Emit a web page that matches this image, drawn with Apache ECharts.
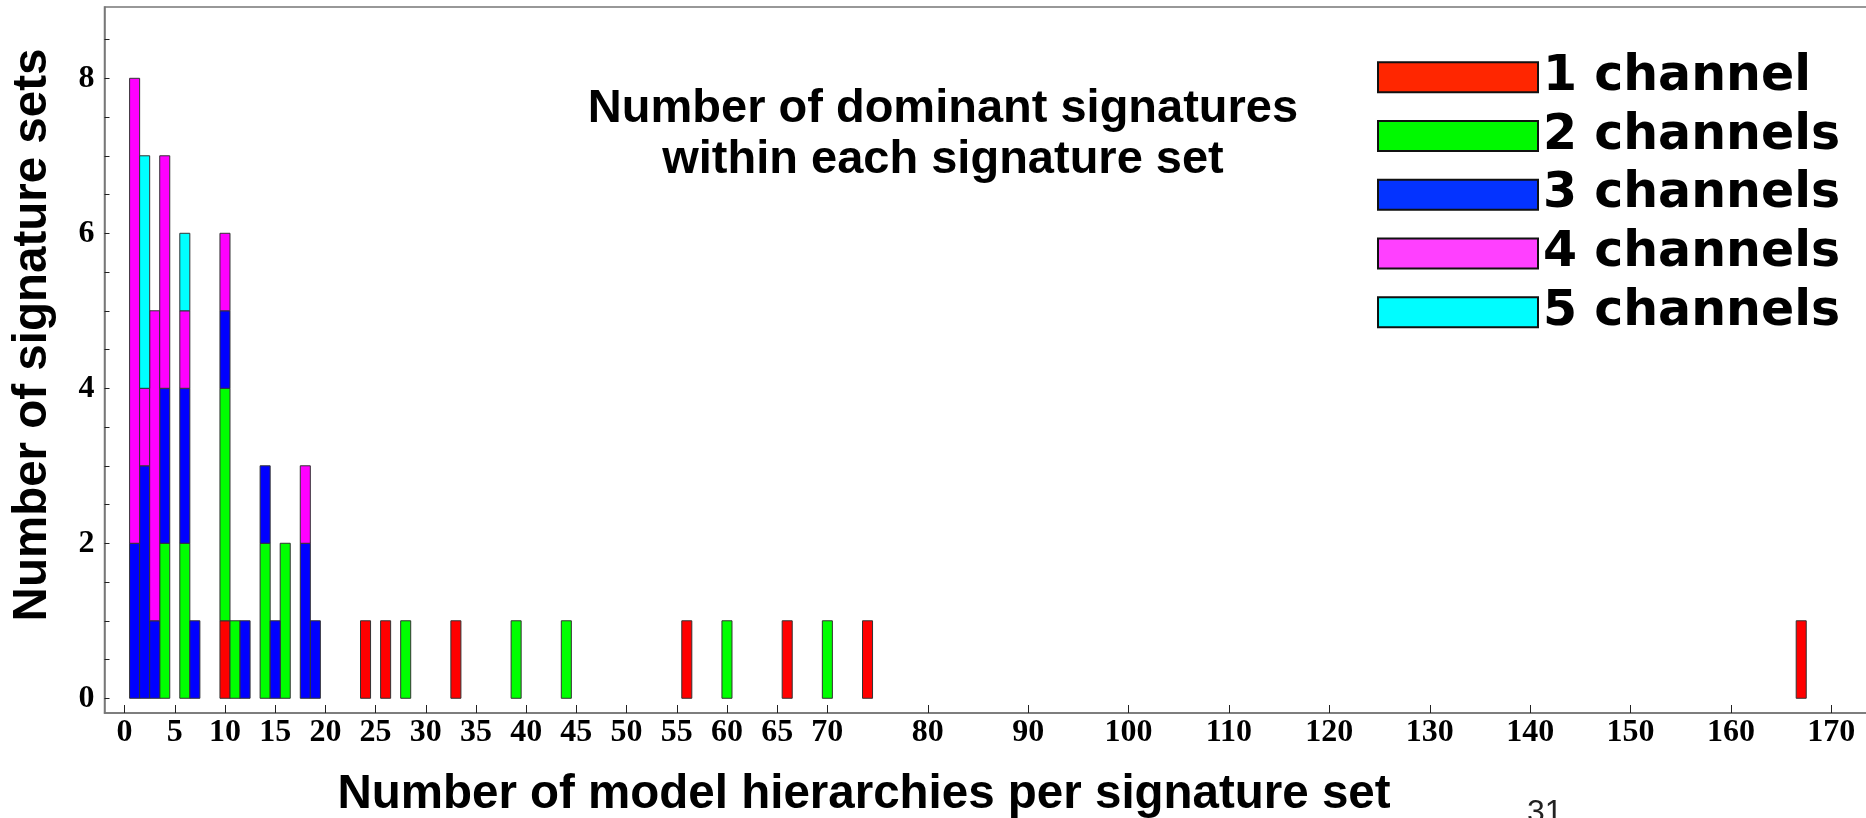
<!DOCTYPE html>
<html>
<head>
<meta charset="utf-8">
<script src="https://cdn.jsdelivr.net/npm/echarts@6/dist/echarts.min.js"></script>
<style>
html,body{margin:0;padding:0;background:#fff;}
#chart{width:1866px;height:818px;}
</style>
</head>
<body>
<div id="chart"></div>
<script>
// ---- data ----
const hierarchies   = [1, 2, 3, 4, 6, 7, 10, 11, 12, 14, 15, 16, 18, 19, 24, 26, 28, 33, 39, 44, 56, 60, 66, 70, 74, 167];
const oneChannel    = [0, 0, 0, 0, 0, 0, 1,  0,  0,  0,  0,  0,  0,  0,  1,  1,  0,  1,  0,  0,  1,  0,  1,  0,  1,  1];
const twoChannels   = [0, 0, 0, 2, 2, 0, 3,  1,  0,  2,  0,  2,  0,  0,  0,  0,  1,  0,  1,  1,  0,  1,  0,  1,  0,  0];
const threeChannels = [2, 3, 1, 2, 2, 1, 1,  0,  1,  1,  1,  0,  2,  1,  0,  0,  0,  0,  0,  0,  0,  0,  0,  0,  0,  0];
const fourChannels  = [6, 1, 4, 3, 1, 0, 1,  0,  0,  0,  0,  0,  1,  0,  0,  0,  0,  0,  0,  0,  0,  0,  0,  0,  0,  0];
const fiveChannels  = [0, 3, 0, 0, 1, 0, 0,  0,  0,  0,  0,  0,  0,  0,  0,  0,  0,  0,  0,  0,  0,  0,  0,  0,  0,  0];
const seriesNames   = ['1 channel', '2 channels', '3 channels', '4 channels', '5 channels'];
const xTickValues   = [0, 5, 10, 15, 20, 25, 30, 35, 40, 45, 50, 55, 60, 65, 70, 80, 90, 100, 110, 120, 130, 140, 150, 160, 170];
const yTickValues   = [0, 0.5, 1, 1.5, 2, 2.5, 3, 3.5, 4, 4.5, 5, 5.5, 6, 6.5, 7, 7.5, 8, 8.5];
const yLabelValues  = [0, 2, 4, 6, 8];
const chartTitle    = 'Number of dominant signatures\nwithin each signature set';
const xAxisTitle    = 'Number of model hierarchies per signature set';
const yAxisTitle    = 'Number of signature sets';
const pageNumber    = '31';

// ---- styles ----
const barColors    = ['#ff0000', '#00ff00', '#0000ff', '#ff00ff', '#00ffff'];
const legendColors = ['#ff2600', '#00f900', '#0433ff', '#ff40ff', '#00fdff'];
const allCounts = [oneChannel, twoChannels, threeChannels, fourChannels, fiveChannels];

const chart = echarts.init(document.getElementById('chart'));

// stacked items: [x, base, top], one per nonzero count
function stackedItems(k) {
  const out = [];
  hierarchies.forEach((x, i) => {
    let base = 0;
    for (let j = 0; j < k; j++) base += allCounts[j][i];
    const c = allCounts[k][i];
    if (c > 0) out.push([x, base, base + c]);
  });
  return out;
}

function renderBar(params, api) {
  const x = api.value(0), b = api.value(1), t = api.value(2);
  const p0 = api.coord([x - 0.5, t]);
  const p1 = api.coord([x + 0.5, b]);
  return {
    type: 'rect',
    shape: { x: p0[0], y: p0[1], width: p1[0] - p0[0], height: p1[1] - p0[1] },
    style: { fill: barColors[params.seriesIndex], stroke: '#333', lineWidth: 1 }
  };
}

const series = seriesNames.map((name, k) => ({
  name: name,
  type: 'custom',
  renderItem: renderBar,
  encode: { x: 0, y: [1, 2] },
  data: stackedItems(k),
  itemStyle: { color: barColors[k], borderColor: '#333', borderWidth: 1 },
  emphasis: { disabled: true },
  animation: false
}));

const serifLabel = { fontFamily: 'Liberation Serif', fontWeight: 'bold', fontSize: 32, color: '#000' };

const option = {
  animation: false,
  grid: {
    left: 104.5, top: 7, right: -5.5, bottom: 105,
    show: true, borderColor: '#777', borderWidth: 1.5,
    containLabel: false, outerBoundsMode: 'none'
  },
  xAxis: {
    type: 'value', min: -2, max: 174,
    splitLine: { show: false },
    axisLine: { show: true, onZero: false, lineStyle: { color: '#777', width: 1.5 } },
    axisTick: { show: true, inside: true, length: 8, customValues: xTickValues, lineStyle: { color: '#222', width: 1 } },
    axisLabel: Object.assign({ customValues: xTickValues, margin: 4 }, serifLabel)
  },
  yAxis: {
    type: 'value', min: -0.19, max: 8.92,
    splitLine: { show: false },
    axisLine: { show: true, onZero: false, lineStyle: { color: '#777', width: 1.5 } },
    axisTick: { show: true, inside: true, length: 5, customValues: yTickValues, lineStyle: { color: '#222', width: 1 } },
    axisLabel: Object.assign({ customValues: yLabelValues, margin: 10 }, serifLabel)
  },
  legend: {
    orient: 'vertical',
    left: 1372, top: 43,
    itemWidth: 160, itemHeight: 30, itemGap: 0,
    icon: 'rect',
    selectedMode: false,
    itemStyle: { borderColor: '#111', borderWidth: 2 },
    textStyle: { fontFamily: 'DejaVu Sans', fontWeight: 'bold', fontSize: 49, lineHeight: 58.7, color: '#000' },
    data: seriesNames.map((n, k) => ({ name: n, itemStyle: { color: legendColors[k] } }))
  },
  graphic: [
    { type: 'text', x: 943, y: 135, style: { text: chartTitle, align: 'center', verticalAlign: 'middle',
        font: 'bold 47px "Liberation Sans"', lineHeight: 51, fill: '#000' } },
    { type: 'text', x: 864, y: 795, style: { text: xAxisTitle, align: 'center', verticalAlign: 'middle',
        font: 'bold 47.5px "Liberation Sans"', fill: '#000' } },
    { type: 'text', x: 33, y: 335, rotation: Math.PI / 2, style: { text: yAxisTitle, align: 'center', verticalAlign: 'middle',
        font: 'bold 47.5px "Liberation Sans"', fill: '#000' } },
    { type: 'text', x: 1527, y: 797, style: { text: pageNumber, align: 'left', verticalAlign: 'top',
        font: '32px "Liberation Sans"', fill: '#222' } }
  ],
  series: series
};

chart.setOption(option);
</script>
</body>
</html>
